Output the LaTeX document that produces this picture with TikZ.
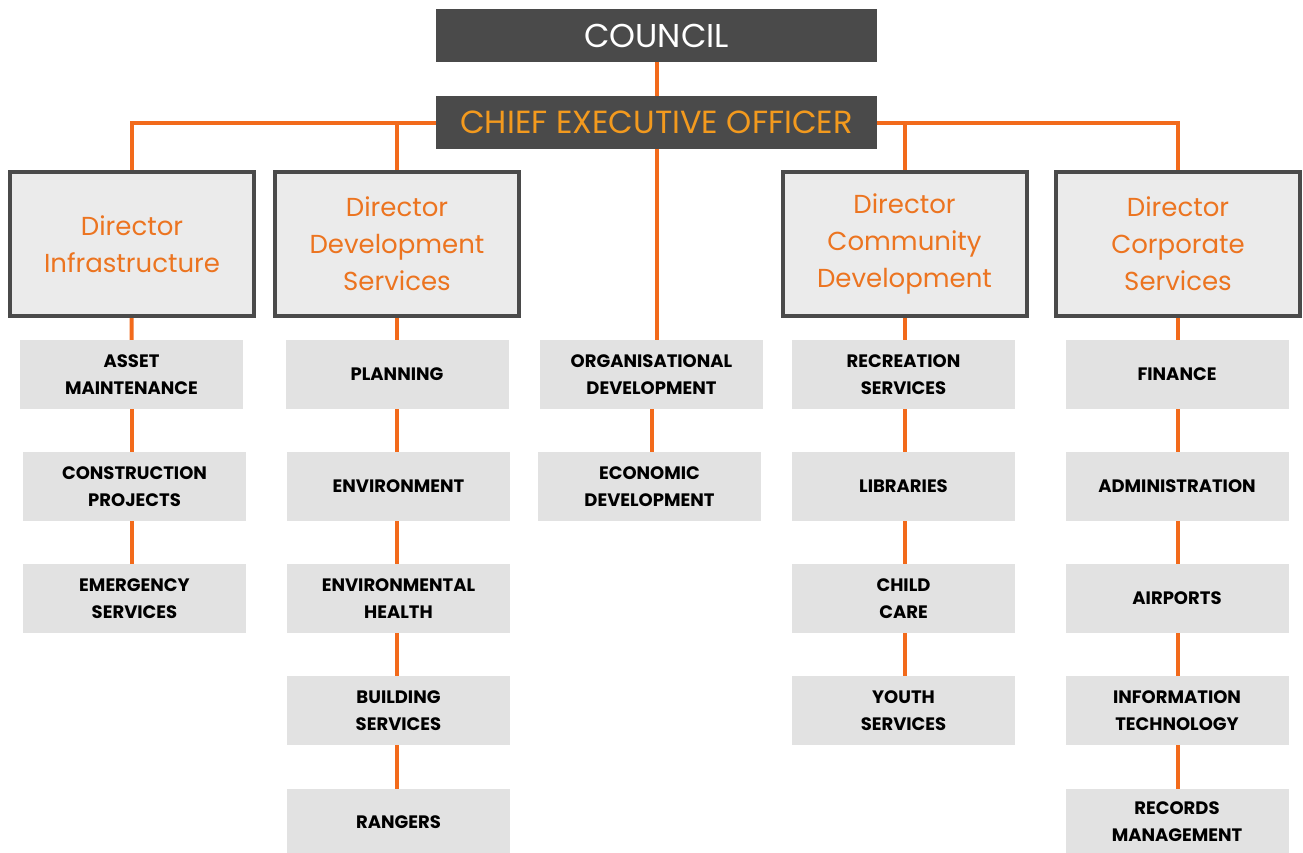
\documentclass[tikz,border=0pt]{standalone}
\usepackage{fontspec}
\setmainfont{Poppins}
\usetikzlibrary{backgrounds}
\definecolor{darkbox}{HTML}{4A4A4A}
\definecolor{linor}{HTML}{F26A1B}
\definecolor{dirtxt}{HTML}{EC7420}
\definecolor{ceotxt}{HTML}{F39A1E}
\definecolor{dirfill}{HTML}{EBEBEB}
\definecolor{subfill}{HTML}{E2E2E2}
\begin{document}
\begin{tikzpicture}[x=1pt,y=-1pt,
  topbox/.style={fill=darkbox,minimum width=441pt,minimum height=53pt,inner sep=0pt},
  dirbox/.style={fill=dirfill,draw=darkbox,line width=4pt,minimum width=244pt,minimum height=144pt,inner sep=0pt,align=center,text=dirtxt,font=\fontsize{26}{37}\selectfont},
  subbox/.style={fill=subfill,minimum width=223pt,minimum height=69pt,inner sep=0pt,align=center,font=\fontsize{18}{27}\selectfont\bfseries},
  conn/.style={draw=linor,line width=4pt}]
\useasboundingbox (0,0) rectangle (1303,852);
% top
\node[topbox,text=white,font=\fontsize{33}{35}\selectfont] (council) at (656.5,35.5) {COUNCIL};
\node[topbox,text=ceotxt,font=\fontsize{32}{34}\selectfont] (ceo) at (656.5,122.5) {CHIEF EXECUTIVE OFFICER};
% directors
\node[dirbox] (d1) at (132,244) {Director\\Infrastructure};
\node[dirbox] (d2) at (397,244) {Director\\Development\\Services};
\node[dirbox] (d4) at (904.5,244) {Director\\Community\\Development};
\node[dirbox] (d5) at (1178,244) {Director\\Corporate\\Services};
% column 1
\node[subbox] (a1) at (131.5,374.5) {ASSET\\MAINTENANCE};
\node[subbox] (a2) at (134.5,486.5) {CONSTRUCTION\\PROJECTS};
\node[subbox] (a3) at (134.5,598.5) {EMERGENCY\\SERVICES};
% column 2
\node[subbox] (b1) at (397,374.5) {PLANNING};
\node[subbox] (b2) at (398.5,486.5) {ENVIRONMENT};
\node[subbox] (b3) at (398.5,598.5) {ENVIRONMENTAL\\HEALTH};
\node[subbox] (b4) at (398.5,710.5) {BUILDING\\SERVICES};
\node[subbox,minimum height=66pt] (b5) at (398.5,822) {RANGERS};
% column 3
\node[subbox] (c1) at (651.5,374.5) {ORGANISATIONAL\\DEVELOPMENT};
\node[subbox] (c2) at (649.5,486.5) {ECONOMIC\\DEVELOPMENT};
% column 4
\node[subbox] (e1) at (903.5,374.5) {RECREATION\\SERVICES};
\node[subbox] (e2) at (903.5,486.5) {LIBRARIES};
\node[subbox] (e3) at (903.5,598.5) {CHILD\\CARE};
\node[subbox] (e4) at (903.5,710.5) {YOUTH\\SERVICES};
% column 5
\node[subbox] (f1) at (1177,374.5) {FINANCE};
\node[subbox] (f2) at (1177,486.5) {ADMINISTRATION};
\node[subbox] (f3) at (1177,598.5) {AIRPORTS};
\node[subbox] (f4) at (1177,710.5) {INFORMATION\\TECHNOLOGY};
\node[subbox,minimum height=66pt] (f5) at (1177,822) {RECORDS\\MANAGEMENT};
% connectors (behind boxes)
\begin{scope}[on background layer]
\draw[conn] (council) -- (ceo);
\draw[conn] (d1.north) |- (ceo.west);
\draw[conn] (d2.north) |- (ceo.west);
\draw[conn] (d4.north) |- (ceo.east);
\draw[conn] (d5.north) |- (ceo.east);
\draw[conn] (ceo) -- (ceo |- c1.north);
\draw[conn] (d1) -- (a1);
\draw[conn] (a1) -- (a2 -| a1);
\draw[conn] (a2 -| a1) -- (a3 -| a1);
\draw[conn] (d2) -- (b5 -| d2);
\draw[conn] (c1) -- (c2 -| c1);
\draw[conn] (d4) -- (e4 -| d4);
\draw[conn] (d5) -- (f5 -| d5);
\end{scope}
\end{tikzpicture}
\end{document}
